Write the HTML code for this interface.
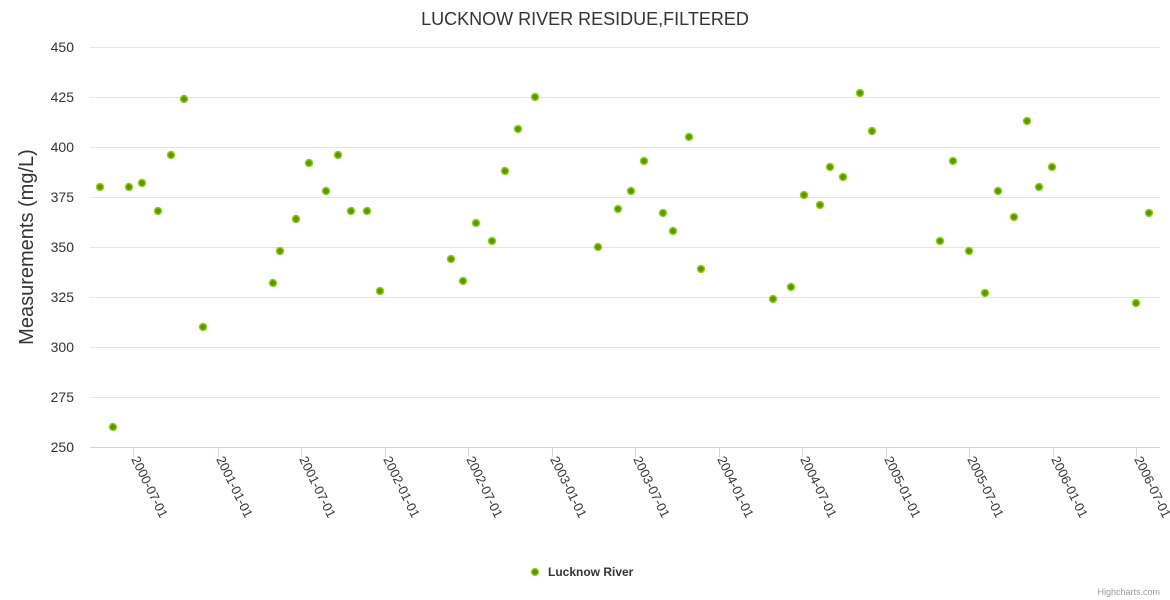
<!DOCTYPE html>
<html><head><meta charset="utf-8"><style>
body{margin:0;background:#fff;}
svg{display:block;font-family:"Liberation Sans",sans-serif;}
</style></head><body>
<svg width="1170" height="600" viewBox="0 0 1170 600">
<rect width="1170" height="600" fill="#fff"/>
<text x="585" y="25" text-anchor="middle" font-size="18" fill="#333">LUCKNOW RIVER RESIDUE,FILTERED</text>
<g stroke="#e6e6e6" stroke-width="1">
<line x1="90" x2="1160" y1="47.5" y2="47.5"/>
<line x1="90" x2="1160" y1="97.5" y2="97.5"/>
<line x1="90" x2="1160" y1="147.5" y2="147.5"/>
<line x1="90" x2="1160" y1="197.5" y2="197.5"/>
<line x1="90" x2="1160" y1="247.5" y2="247.5"/>
<line x1="90" x2="1160" y1="297.5" y2="297.5"/>
<line x1="90" x2="1160" y1="347.5" y2="347.5"/>
<line x1="90" x2="1160" y1="397.5" y2="397.5"/>
</g>
<line x1="90" x2="1160" y1="447.5" y2="447.5" stroke="#ccd6eb"/>
<g font-size="14" fill="#333" text-anchor="end">
<text x="74" y="52">450</text><text x="74" y="102">425</text><text x="74" y="152">400</text>
<text x="74" y="202">375</text><text x="74" y="252">350</text><text x="74" y="302">325</text>
<text x="74" y="352">300</text><text x="74" y="402">275</text><text x="74" y="452">250</text>
</g>
<text transform="translate(33,247) rotate(-90)" text-anchor="middle" font-size="20" fill="#333">Measurements (mg/L)</text>
<g stroke="#ccd6eb">
<line x1="133.5" x2="133.5" y1="447" y2="457"/><line x1="218.5" x2="218.5" y1="447" y2="457"/>
<line x1="301.5" x2="301.5" y1="447" y2="457"/><line x1="385.5" x2="385.5" y1="447" y2="457"/>
<line x1="468.5" x2="468.5" y1="447" y2="457"/><line x1="552.5" x2="552.5" y1="447" y2="457"/>
<line x1="635.5" x2="635.5" y1="447" y2="457"/><line x1="719.5" x2="719.5" y1="447" y2="457"/>
<line x1="802.5" x2="802.5" y1="447" y2="457"/><line x1="886.5" x2="886.5" y1="447" y2="457"/>
<line x1="969.5" x2="969.5" y1="447" y2="457"/><line x1="1053.5" x2="1053.5" y1="447" y2="457"/>
<line x1="1136.5" x2="1136.5" y1="447" y2="457"/>
</g>
<g font-size="13" fill="#333">
<text transform="translate(131,459) rotate(64)">2000-07-01</text>
<text transform="translate(216,459) rotate(64)">2001-01-01</text>
<text transform="translate(299,459) rotate(64)">2001-07-01</text>
<text transform="translate(383,459) rotate(64)">2002-01-01</text>
<text transform="translate(466,459) rotate(64)">2002-07-01</text>
<text transform="translate(550,459) rotate(64)">2003-01-01</text>
<text transform="translate(633,459) rotate(64)">2003-07-01</text>
<text transform="translate(717,459) rotate(64)">2004-01-01</text>
<text transform="translate(800,459) rotate(64)">2004-07-01</text>
<text transform="translate(884,459) rotate(64)">2005-01-01</text>
<text transform="translate(967,459) rotate(64)">2005-07-01</text>
<text transform="translate(1051,459) rotate(64)">2006-01-01</text>
<text transform="translate(1134,459) rotate(64)">2006-07-01</text>
</g>
<g fill="#5f9400" stroke="#8fd11a" stroke-width="1.5" id="pts"></g>
<circle cx="535" cy="572" r="3.5" fill="#5f9400" stroke="#8fd11a" stroke-width="1.2"/>
<text x="548" y="576" font-size="12" font-weight="bold" fill="#333">Lucknow River</text>
<text x="1160" y="595" text-anchor="end" font-size="9" fill="#999">Highcharts.com</text>
</svg>
<script>
var d=[[100,380],[113,260],[129,380],[142,382],[158,368],[171,396],[184,424],[203,310],[273,332],[280,348],[296,364],[309,392],[326,378],[338,396],[351,368],[367,368],[380,328],[451,344],[463,333],[476,362],[492,353],[505,388],[518,409],[535,425],[598,350],[618,369],[631,378],[644,393],[663,367],[673,358],[689,405],[701,339],[773,324],[791,330],[804,376],[820,371],[830,390],[843,385],[860,427],[872,408],[940,353],[953,393],[969,348],[985,327],[998,378],[1014,365],[1027,413],[1039,380],[1052,390],[1136,322],[1149,367]];
var g=document.getElementById('pts'),s='';
d.forEach(function(p){s+='<circle cx="'+p[0]+'" cy="'+(447-(p[1]-250)*2)+'" r="3.5"/>';});
g.innerHTML=s;
</script>
</body></html>
